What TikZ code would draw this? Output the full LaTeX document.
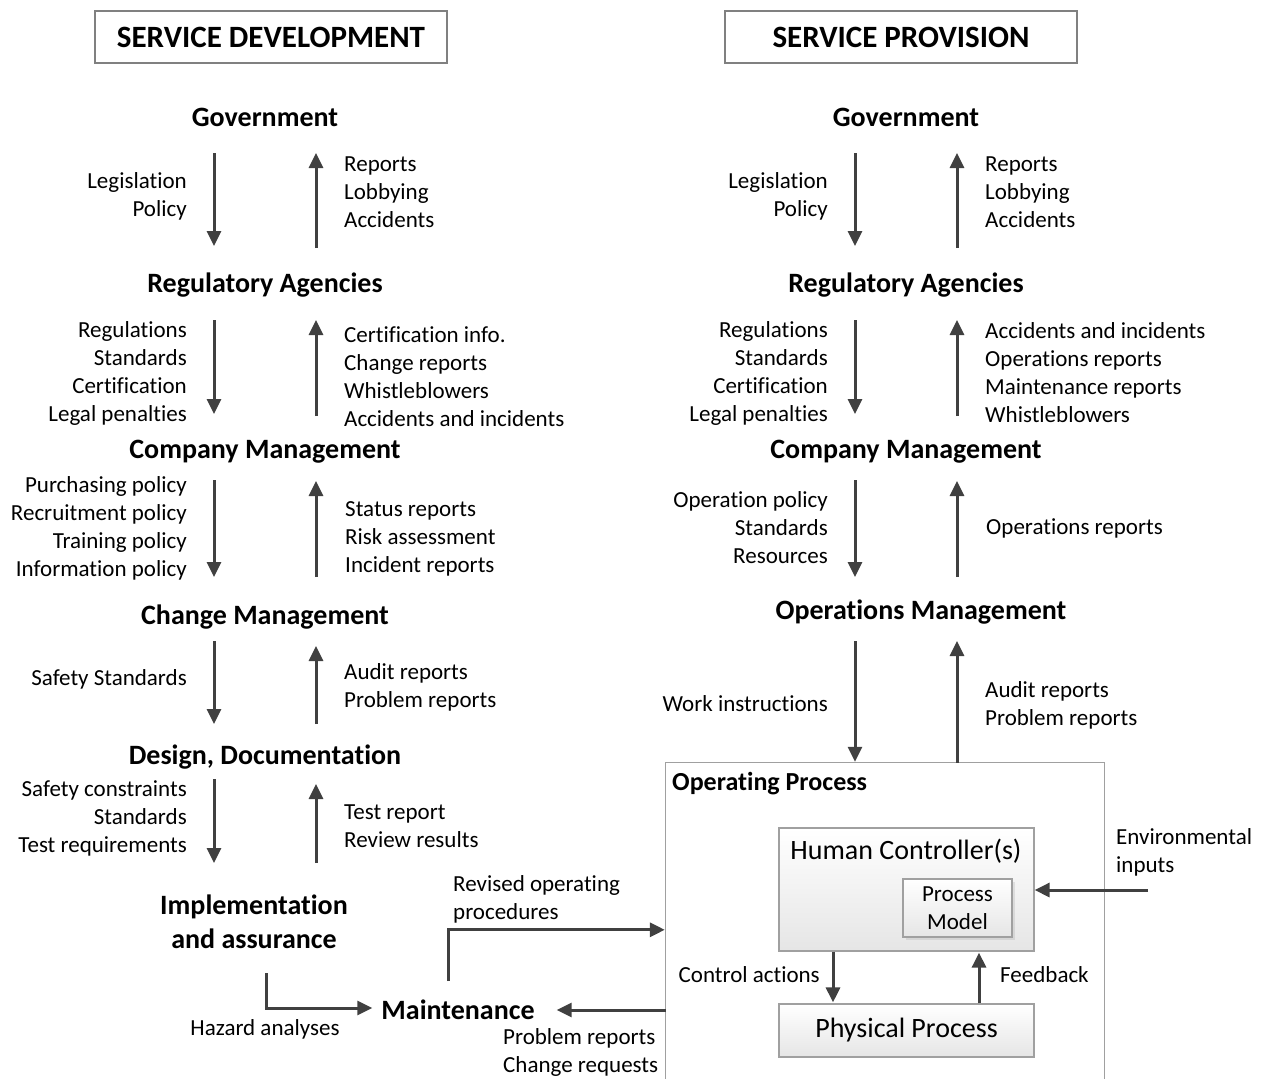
\documentclass[tikz,border=0pt]{standalone}
\usepackage{fontspec}
\setmainfont{Carlito}[Ligatures=NoCommon]
\usetikzlibrary{arrows.meta,shadows,calc}
\definecolor{arrowgray}{HTML}{404040}
\definecolor{edgegray}{HTML}{A0A0A0}

\begin{document}
\begin{tikzpicture}[x=1pt,y=-1pt,
  hdtext/.style={font=\fontsize{28}{34}\selectfont\bfseries, inner sep=0pt},
  hd/.style={hdtext, text height=22pt, text depth=2.4pt},
  lbl/.style={font=\fontsize{23}{28}\selectfont, inner sep=0pt},
  lblr/.style={lbl, align=right, anchor=east},
  lbll/.style={lbl, align=left, anchor=west},
  arr/.style={draw=arrowgray, line width=3pt, -{Triangle[length=15pt,width=14pt]}},
  ttl/.style={draw=edgegray!80!black, line width=1.2pt, fill=white, minimum width=352pt,
    minimum height=52pt, inner sep=0pt, font=\fontsize{31}{36}\selectfont\bfseries},
  gbox/.style={draw=edgegray, line width=1.2pt, top color=white, bottom color=black!10, inner sep=0pt}
]
\useasboundingbox (0,0) rectangle (1264,1079);

% column positions of the vertical flows
\coordinate (ldn) at (214,0);
\coordinate (lup) at (316,0);
\coordinate (rdn) at (855,0);
\coordinate (rup) at (957,0);

% ---------- titles ----------
\node[ttl] (ltitle) at (271,37) {SERVICE DEVELOPMENT};
\node[ttl] (rtitle) at (901,37) {SERVICE PROVISION};

% ---------- development side ----------
\node[hd] (lgov) at (265,117) {Government};
\node[hd] (lreg) at (265,283) {Regulatory Agencies};
\node[hd] (lcom) at (265,449) {Company Management};
\node[hd] (lchg) at (265,615) {Change Management};
\node[hd] (ldes) at (265,755) {Design, Documentation};
\node[hdtext, align=center] (limp) at (254,922) {Implementation\\and assurance};
\node[hd] (maint) at (458,1010) {Maintenance};

\draw[arr] ($(lgov -| ldn)+(0,36)$) -- ($(lreg -| ldn)+(0,-37)$);
\draw[arr] ($(lreg -| lup)+(0,-35)$) -- ($(lgov -| lup)+(0,36)$);
\draw[arr] ($(lreg -| ldn)+(0,37)$) -- ($(lcom -| ldn)+(0,-35)$);
\draw[arr] ($(lcom -| lup)+(0,-33)$) -- ($(lreg -| lup)+(0,37)$);
\draw[arr] ($(lcom -| ldn)+(0,31)$) -- ($(lchg -| ldn)+(0,-38)$);
\draw[arr] ($(lchg -| lup)+(0,-38)$) -- ($(lcom -| lup)+(0,32)$);
\draw[arr] ($(lchg -| ldn)+(0,26)$) -- ($(ldes -| ldn)+(0,-31)$);
\draw[arr] ($(ldes -| lup)+(0,-31)$) -- ($(lchg -| lup)+(0,31)$);
\draw[arr] ($(ldes -| ldn)+(0,24)$) -- ($(limp -| ldn)+(0,-59)$);
\draw[arr] ($(limp -| lup)+(0,-59)$) -- ($(ldes -| lup)+(0,29)$);

\node[lblr] (l1a) at (187,196) {Legislation\\Policy};
\node[lbll] (l1b) at (344,192) {Reports\\Lobbying\\Accidents};
\node[lblr] (l2a) at (187,373) {Regulations\\Standards\\Certification\\Legal penalties};
\node[lbll] (l2b) at (344,377) {Certification info.\\Change reports\\Whistleblowers\\Accidents and incidents};
\node[lblr] (l3a) at (187,528) {Purchasing policy\\Recruitment policy\\Training policy\\Information policy};
\node[lbll] (l3b) at (345,539) {Status reports\\Risk assessment\\Incident reports};
\node[lblr] (l4a) at (187,679) {Safety Standards};
\node[lbll] (l4b) at (344,687) {Audit reports\\Problem reports};
\node[lblr] (l5a) at (187,818) {Safety constraints\\Standards\\Test requirements};
\node[lbll] (l5b) at (344,826) {Test report\\Review results};

% ---------- provision side ----------
\node[hd] (rgov) at (906,117) {Government};
\node[hd] (rreg) at (906,283) {Regulatory Agencies};
\node[hd] (rcom) at (906,449) {Company Management};
\node[hd] (rops) at (921,610) {Operations Management};

% operating process frame (open at the bottom)
\node[minimum width=438pt, minimum height=316pt, inner sep=0pt] (opbox) at (885,921) {};
\draw[edgegray, line width=1.2pt] (opbox.south west) -- (opbox.north west)
  -- (opbox.north east) -- (opbox.south east);
\node[hdtext, font=\fontsize{26}{30}\selectfont\bfseries, anchor=west] (optitle) at (672,784) {Operating Process};

\draw[arr] ($(rgov -| rdn)+(0,36)$) -- ($(rreg -| rdn)+(0,-37)$);
\draw[arr] ($(rreg -| rup)+(0,-35)$) -- ($(rgov -| rup)+(0,36)$);
\draw[arr] ($(rreg -| rdn)+(0,37)$) -- ($(rcom -| rdn)+(0,-35)$);
\draw[arr] ($(rcom -| rup)+(0,-33)$) -- ($(rreg -| rup)+(0,37)$);
\draw[arr] ($(rcom -| rdn)+(0,31)$) -- ($(rops -| rdn)+(0,-33)$);
\draw[arr] ($(rops -| rup)+(0,-33)$) -- ($(rcom -| rup)+(0,32)$);
\draw[arr] ($(rops -| rdn)+(0,31)$) -- ($(opbox.north -| rdn)+(0,-1)$);
\draw[arr] (opbox.north -| rup) -- ($(rops -| rup)+(0,31)$);

\node[lblr] (r1a) at (828,196) {Legislation\\Policy};
\node[lbll] (r1b) at (985,192) {Reports\\Lobbying\\Accidents};
\node[lblr] (r2a) at (828,373) {Regulations\\Standards\\Certification\\Legal penalties};
\node[lbll] (r2b) at (985,373) {Accidents and incidents\\Operations reports\\Maintenance reports\\Whistleblowers};
\node[lblr] (r3a) at (828,528) {Operation policy\\Standards\\Resources};
\node[lbll] (r3b) at (986,528) {Operations reports};
\node[lblr] (r4a) at (828,704) {Work instructions};
\node[lbll] (r4b) at (985,705) {Audit reports\\Problem reports};

% ---------- control loop inside the operating process ----------
\node[gbox, minimum width=255pt, minimum height=123pt] (hc) at (906.5,889.5) {};
\node[lbl, font=\fontsize{28}{34}\selectfont] (hclbl) at (906,851) {Human Controller(s)};
\node[gbox, minimum width=109pt, minimum height=58pt, align=center,
  font=\fontsize{23}{28}\selectfont,
  drop shadow={opacity=0.18, shadow xshift=2.5pt, shadow yshift=-2.5pt}] (pm) at (957.5,908) {Process\\Model};
\node[gbox, minimum width=255pt, minimum height=53pt, font=\fontsize{28}{34}\selectfont] (pp) at (906.5,1030.5) {Physical Process};

\coordinate (cax) at (833,0);
\coordinate (fbx) at (979,0);
\coordinate (envin) at (1148,890);
\draw[arr] (hc.south -| cax) -- ($(pp.north -| cax)+(0,-1)$);
\draw[arr] (pp.north -| fbx) -- ($(hc.south -| fbx)+(0,1)$);
\draw[arr] (envin) -- (hc.east |- envin);
\node[lblr] (calbl) at (820,975) {Control actions};
\node[lbll] (fblbl) at (1000,975) {Feedback};
\node[lbll] (envlbl) at (1116,852) {Environmental\\inputs};

% ---------- maintenance links ----------
\draw[arr] (maint -| opbox.west) -- ($(maint.east)+(22,0)$);
\draw[arr] ($(maint)+(-10,-29)$) |- ($(opbox.north west)+(-1,167)$);
\draw[arr] ($(limp)+(12,51)$) |- ($(maint.west)+(-9,-2)$);
\node[lbll] (revlbl) at (453,899) {Revised operating\\procedures};
\node[lbl] (hazlbl) at (265,1029) {Hazard analyses};
\node[lbll] (prlbl) at (503,1052) {Problem reports\\Change requests};
\end{tikzpicture}
\end{document}
